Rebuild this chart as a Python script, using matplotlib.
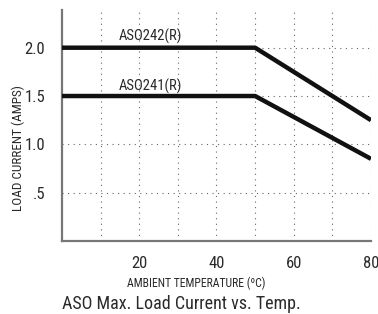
import matplotlib
matplotlib.use("Agg")
import matplotlib.pyplot as plt

temp_242 = [0, 50, 80]
amps_242 = [2.0, 2.0, 1.25]
temp_241 = [0, 50, 80]
amps_241 = [1.5, 1.5, 0.85]
xticks = [20, 40, 60, 80]
xtick_labels = ["20", "40", "60", "80"]
yticks = [0.5, 1.0, 1.5, 2.0]
ytick_labels = [".5", "1.0", "1.5", "2.0"]
xgrid = [10, 20, 30, 40, 50, 60, 70, 80]

FONT = ["Roboto Condensed", "DejaVu Sans"]
plt.rcParams['font.family'] = FONT
TXT = "#2a2a2a"

fig = plt.figure(figsize=(3.78, 3.14), dpi=100)
ax = fig.add_axes([62/378, 1 - 241/314, (371-62)/378, (241-10)/314])
ax.set_xlim(0, 80)
ax.set_ylim(0, 2.39)

for gx in xgrid:
    ax.axvline(gx, color="#666666", lw=0.8, ls=(0, (1, 4)), zorder=1)
for gy in yticks:
    ax.axhline(gy, color="#666666", lw=0.8, ls=(0, (1, 4)), zorder=1)

ax.plot(temp_242, amps_242, color="#111111", lw=3.2, solid_capstyle="butt", zorder=3)
ax.plot(temp_241, amps_241, color="#111111", lw=3.2, solid_capstyle="butt", zorder=3)

ax.text(23, 2.116, "ASO242(R)", fontsize=10.5, ha="center", va="center", color=TXT)
ax.text(23, 1.599, "ASO241(R)", fontsize=10.5, ha="center", va="center", color=TXT)

ax.set_xticks(xticks)
ax.set_xticklabels(xtick_labels, fontsize=12)
ax.set_yticks(yticks)
ax.set_yticklabels(ytick_labels, fontsize=12)
ax.tick_params(length=0, colors=TXT)
ax.tick_params(axis='y', pad=12)
ax.tick_params(axis='x', pad=11)

for s in ["top", "right"]:
    ax.spines[s].set_visible(False)
for s in ["left", "bottom"]:
    ax.spines[s].set_color("#777777")
    ax.spines[s].set_linewidth(1.6)

fig.text(18/378, 1 - 148/314, "LOAD CURRENT (AMPS)", rotation=90, fontsize=9.5,
         ha="center", va="center", color=TXT)
fig.text(196/378, 1 - 283/314, "AMBIENT TEMPERATURE (ºC)", fontsize=8.5,
         ha="center", va="center", color=TXT)
fig.text(181/378, 1 - 304/314, "ASO Max. Load Current vs. Temp.", fontsize=13,
         ha="center", va="center", color=TXT)

fig.savefig("out.png", dpi=100)
